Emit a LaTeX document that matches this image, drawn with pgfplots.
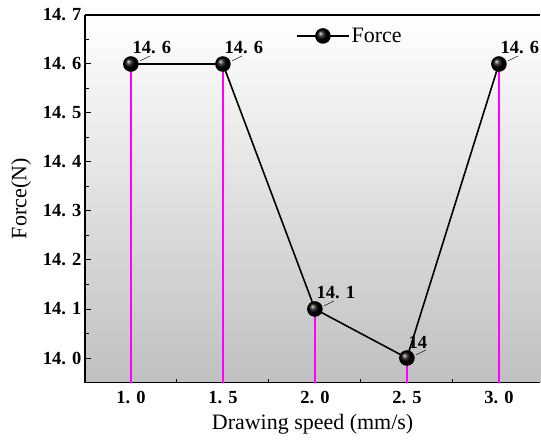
\documentclass[border=0pt]{standalone}
\usepackage{fontspec}
\setmainfont{Liberation Serif}
\usepackage{pgfplots}
\pgfplotsset{compat=1.18}
\definecolor{combmag}{RGB}{255,0,255}
\definecolor{bggray}{RGB}{192,192,192}

\begin{document}
\begin{tikzpicture}
\begin{axis}[
    at={(0pt,0pt)}, anchor=south west,
    width=456pt, height=368pt, scale only axis,
    xmin=-0.5, xmax=4.45, ymin=13.95, ymax=14.7,
    axis lines=left, axis line style={-, line width=1.4pt},
    xtick={0,1,2,3,4},
    xticklabels={1. 0,1. 5,2. 0,2. 5,3. 0},
    ytick={14.0,14.1,14.2,14.3,14.4,14.5,14.6,14.7},
    yticklabels={14. 0,14. 1,14. 2,14. 3,14. 4,14. 5,14. 6,14. 7},
    minor x tick num=1, minor y tick num=1,
    tick align=inside, major tick length=6pt, minor tick length=4pt,
    tick style={line width=1pt, black},
    tick label style={font=\fontsize{18.5}{21}\selectfont\bfseries},
    xticklabel style={yshift=-5pt},
    xlabel={Drawing speed (mm/s)}, ylabel={Force(N)},
    label style={font=\fontsize{22}{25}\selectfont},
    xlabel style={at={(axis description cs:0.5,-0.114)}, anchor=center},
    ylabel style={at={(axis description cs:-0.14,0.5)}, anchor=center},
    axis background/.style={shade, top color=white, bottom color=bggray},
    legend style={at={(axis description cs:0.582,0.943)}, anchor=center,
        draw=none, fill=none, font=\fontsize{22}{25}\selectfont},
    legend image code/.code={\draw[mark repeat=2, mark phase=2]
        plot coordinates {(0pt,0pt) (26pt,0pt) (52pt,0pt)};},
    clip mode=individual,
]
% magenta drop lines
\addplot[ycomb, combmag, line width=2.4pt, forget plot] coordinates {
    (0,14.6) (1,14.6) (2,14.1) (3,14.0) (4,14.6)
};
% force curve
\addplot[black, line width=1.6pt, mark=ball, mark size=7pt,
    mark options={ball color=black},
    point meta=explicit symbolic,
    nodes near coords,
    every node near coord/.style={anchor=south west, inner sep=1pt,
        xshift=0pt, yshift=8pt, black,
        font=\fontsize{18.5}{21}\selectfont\bfseries,
        append after command={([shift={(9pt,-5pt)}]\tikzlastnode.south west)
            edge[draw=black, line width=0.5pt] ([shift={(19pt,0pt)}]\tikzlastnode.south west)}},
] coordinates {
    (0,14.6) [14. 6]
    (1,14.6) [14. 6]
    (2,14.1) [14. 1]
    (3,14.0) [14]
    (4,14.6) [14. 6]
};
\addlegendentry{Force}
\draw[line width=1.4pt] (rel axis cs:0,1) -- (rel axis cs:1,1);
\end{axis}
\useasboundingbox (-85pt,-57pt) rectangle (456pt,383pt);
\end{tikzpicture}
\end{document}
